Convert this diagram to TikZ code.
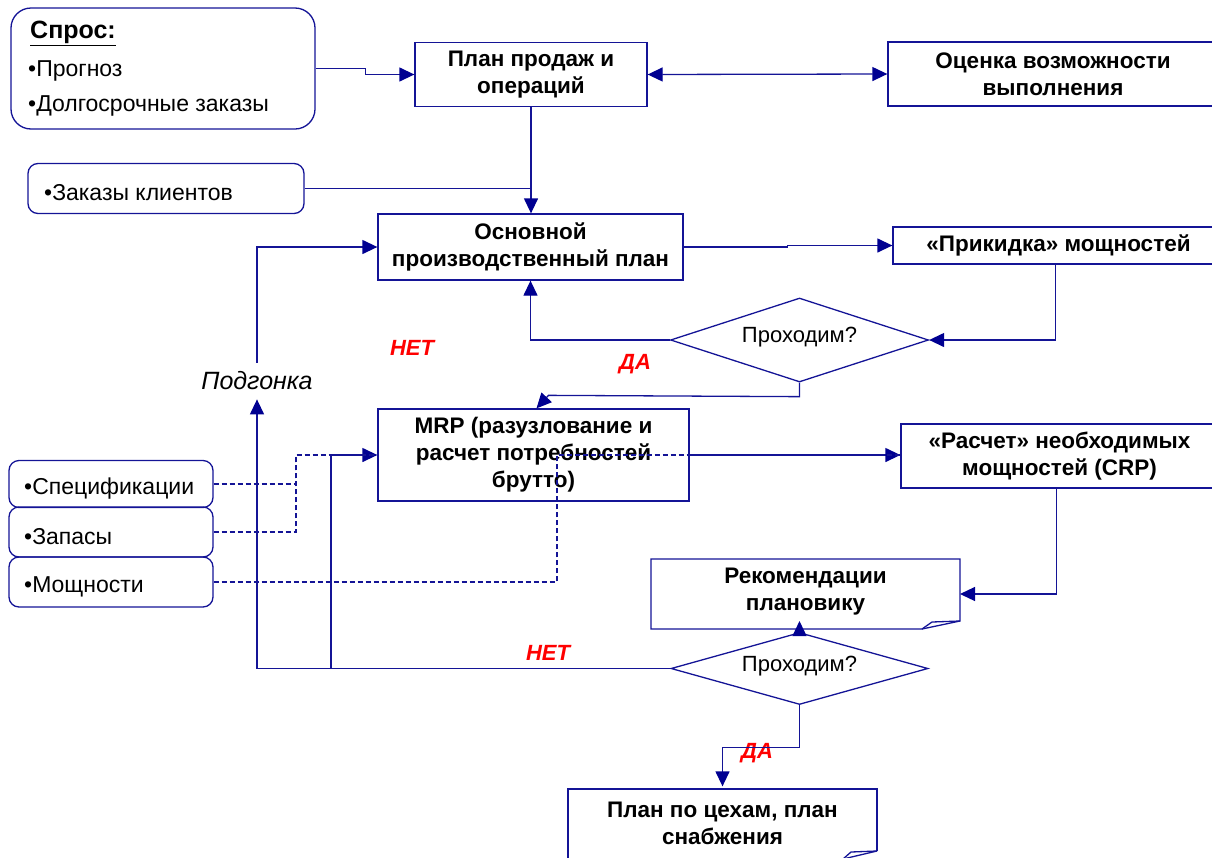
\documentclass[tikz,border=0pt]{standalone}
\usepackage{fontspec}
\setmainfont{Liberation Sans}
\usetikzlibrary{arrows.meta,shapes.geometric,calc}
\definecolor{navy}{RGB}{20,20,150}
\definecolor{tipnavy}{RGB}{0,0,145}
\definecolor{nored}{RGB}{255,0,0}
\begin{document}
\begin{tikzpicture}[x=1pt,y=-1pt,
 ln/.style={draw=navy,line width=1.3pt},
 box/.style={ln,rectangle,inner sep=0pt,align=center,font=\fontsize{22.5}{27}\selectfont\bfseries},
 rbox/.style={ln,rectangle,rounded corners=10pt,inner sep=0pt},
 dia/.style={ln,diamond,aspect=3,inner sep=0pt,font=\fontsize{22}{26}\selectfont},
 arr/.style={ln,-{Triangle[length=15pt,width=14pt,fill=tipnavy,color=tipnavy]}},
 dsh/.style={draw=navy,line width=1.3pt,dash pattern=on 5pt off 3pt},
 lbl/.style={text=nored,font=\fontsize{22}{24}\selectfont\bfseries\itshape,inner sep=0pt},
 txt/.style={font=\fontsize{23}{26}\selectfont,inner sep=0pt,anchor=west}
]
\useasboundingbox (0,0) rectangle (1212,857);

% --- nodes
\node[rbox,rounded corners=20pt,minimum width=304pt,minimum height=121pt] (spros) at (163,68.5) {};
\node[txt,font=\fontsize{25}{28}\selectfont\bfseries] (sprost) at (30,33) {\underline{Спрос:}};
\node[txt] (prog) at (28,71) {•Прогноз};
\node[txt] (dolg) at (28,106) {•Долгосрочные заказы};

\node[box,minimum width=232pt,minimum height=64pt] (sop) at (531,74.5) {План продаж и\\операций};
\node[box,minimum width=330pt,minimum height=64pt] (oc) at (1053,74) {Оценка возможности\\выполнения};

\node[rbox,minimum width=276pt,minimum height=50pt] (zak) at (166,188.5) {};
\node[txt] (zakt) at (44,193) {•Заказы клиентов};

\node[box,minimum width=305pt,minimum height=66pt] (osn) at (530.5,247) {Основной\\производственный план};
\node[box,minimum width=331pt,minimum height=37pt] (prik) at (1058.5,245.5) {«Прикидка» мощностей};

\node[dia,minimum width=258pt,minimum height=84pt] (d1) at (799.5,340) {};
\node[font=\fontsize{22}{26}\selectfont,inner sep=0pt] (d1t) at (799.5,337) {Проходим?};

\node[box,minimum width=311pt,minimum height=92pt] (mrp) at (533.5,455) {MRP (разузлование и\\расчет потребностей\\брутто)};
\node[box,minimum width=317pt,minimum height=64pt] (ras) at (1059.5,456) {«Расчет» необходимых\\мощностей (CRP)};

\node[box,draw=none,minimum width=309pt,minimum height=70pt] (rek) at (805.5,592) {Рекомендации\\плановику};
\coordinate (rekSE) at (960,629);
\draw[ln] (651,559) -- (960,559) -- ([yshift=8pt]rekSE) -- ([xshift=-38pt]rekSE) -- (651,629) -- cycle;
\draw[ln] ([xshift=-38pt]rekSE) -- ([xshift=-28pt,yshift=7pt]rekSE) -- ([yshift=8pt]rekSE);

\node[dia,minimum width=257pt,minimum height=72pt] (d2) at (799.5,668.5) {};
\node[font=\fontsize{22}{26}\selectfont,inner sep=0pt] (d2t) at (799.5,666) {Проходим?};

\node[box,draw=none,minimum width=309pt,minimum height=72pt] (plan) at (722.5,823) {План по цехам, план\\снабжения};
\coordinate (planSE) at (877,861);
\draw[ln] ([yshift=10pt]planSE) -- (877,789) -- (568,789) -- (568,861);
\draw[ln] ([yshift=10pt]planSE) -- ([xshift=-34pt,yshift=2pt]planSE);
\draw[ln] ([xshift=-34pt,yshift=2pt]planSE) -- ([xshift=-26pt,yshift=9pt]planSE) -- ([yshift=10pt]planSE);

\node[rbox,minimum width=204pt,minimum height=47pt] (spec) at (111,484) {};
\node[rbox,minimum width=204pt,minimum height=50pt] (zap) at (111,532) {};
\node[rbox,minimum width=204pt,minimum height=50pt] (mos) at (111,582) {};
\node[txt] (spect) at (24,489) {•Спецификации};
\node[txt] (zapt) at (24,537) {•Запасы};
\node[txt] (most) at (24,587) {•Мощности};

\node[font=\fontsize{25}{28}\selectfont\itshape,inner xsep=0pt,inner ysep=9pt] (podg) at (257,381) {Подгонка};

\node[lbl] (net1) at (412,348) {НЕТ};
\node[lbl] (da1) at (635,364) {ДА};
\node[lbl] (net2) at (548,653) {НЕТ};
\node[lbl] (da2) at (757,753) {ДА};

% --- connectors
\draw[arr] (spros.east) -- ++(50,0) |- (sop.west);
\draw[ln,{Triangle[length=15pt,width=14pt,fill=tipnavy,color=tipnavy]}-{Triangle[length=15pt,width=14pt,fill=tipnavy,color=tipnavy]}] (sop.east) -- (oc.west);
\draw[arr] (sop.south) -- (sop.south |- osn.north);
\draw[ln] (zak.east) -- (zak.east -| sop.south);
\draw[arr] (osn.east) -- ++(104,0) |- (prik.west);
\draw[arr] ([xshift=-3pt]prik.south) |- (d1.east);
\draw[arr] (d1.west) -| (osn.south);
\draw[arr] (d1.south) -- ++(0,14) -- ($(mrp.north)+(15,-13)$) -- ([xshift=3pt]mrp.north);
\draw[arr] (podg.north) |- (osn.west);
\coordinate (c331) at (331,668.5);
\draw[arr] (d2.west) -| (podg.south);
\draw[arr] (d2.west) -- (c331) |- (mrp.west);
\draw[arr] (mrp.east) -- (mrp.east -| ras.west);
\draw[arr] ([xshift=-3pt]ras.south) |- (960,594);
\draw[arr] (d2.north) -- (799.5,621);
\draw[arr] (d2.south) -- ++(0,42) -| (plan.north);

% dashed
\coordinate (dx) at (296,455);
\coordinate (mx) at (557,455);
\draw[dsh] (spec.east) -| (dx) -- (mrp.west);
\draw[dsh] (zap.east) -| (dx);
\draw[dsh] (mos.east) -| (mx) -- (mx -| ras.west);
\end{tikzpicture}
\end{document}
